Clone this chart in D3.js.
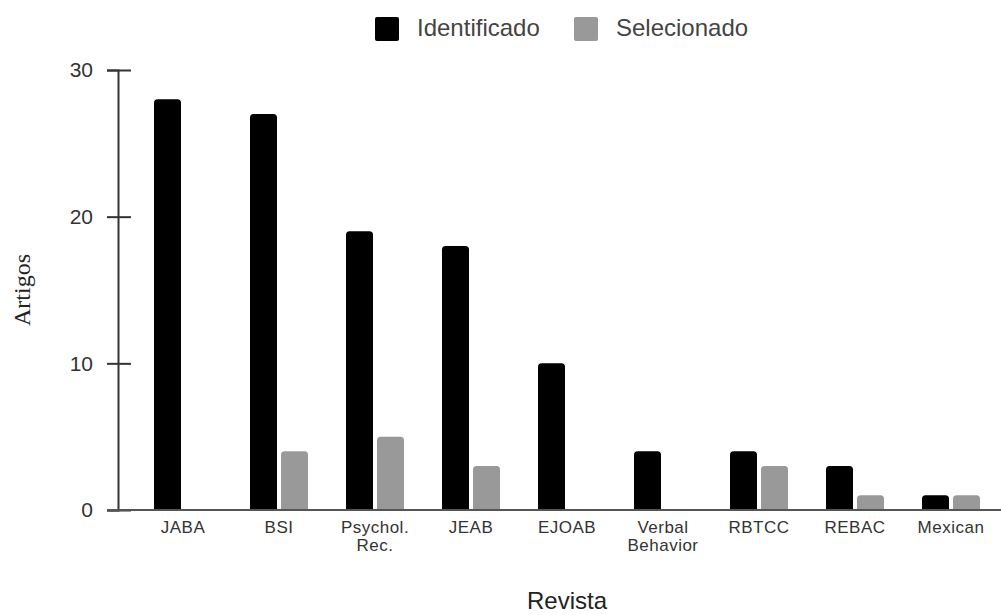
<html>
<head>
	<title>Artigos por revista</title>
	<script src="https://d3js.org/d3.v7.min.js"></script>
	<style type="text/css">
		body { margin: 0; padding: 0; background: #fff; }
		text { font-family: "Liberation Sans", Arial, sans-serif; }
	</style>
</head>
<body>
<div id="chart"></div>
<script>

var revistas = [["JABA"], ["BSI"], ["Psychol.", "Rec."], ["JEAB"], ["EJOAB"], ["Verbal", "Behavior"], ["RBTCC"], ["REBAC"], ["Mexican"]];
var series = ["Identificado", "Selecionado"];
var identificado = [28, 27, 19, 18, 10, 4, 4, 3, 1];
var selecionado = [0, 4, 5, 3, 0, 0, 3, 1, 1];
var yTicks = [0, 10, 20, 30];
var colors = ["#000000", "#999999"];

var w = 1001, h = 615;

var svg = d3.select("#chart").append("svg")
	.attr("width", w)
	.attr("height", h);

var names = revistas.map(function(d) { return d.join(" "); });

var x = d3.scaleBand()
	.domain(names)
	.range([135, 999]);

var x1 = d3.scaleBand()
	.domain(series)
	.range([x.bandwidth()/2 - 29, x.bandwidth()/2 + 29])
	.paddingInner(0.13);

var y = d3.scaleLinear()
	.domain([0, 30])
	.range([510, 70]);

var color = d3.scaleOrdinal().domain(series).range(colors);

// y axis
var yAxis = svg.append("g")
	.attr("transform", "translate(118,0)")
	.call(d3.axisLeft(y).tickValues(yTicks).tickSize(11).tickPadding(14));
yAxis.select(".domain").attr("stroke", "#333").attr("stroke-width", 2);
yAxis.selectAll(".tick line").attr("x2", 13).attr("x1", -11).attr("stroke", "#333").attr("stroke-width", 2);
yAxis.selectAll(".tick text")
	.attr("font-size", 21)
	.attr("font-family", "Liberation Sans, Arial, sans-serif")
	.attr("fill", "#333");

// bars
var data = names.map(function(n, i) {
	return { name: n, values: [identificado[i], selecionado[i]] };
});

var groups = svg.append("g").selectAll("g")
	.data(data)
	.join("g")
	.attr("transform", function(d) { return "translate(" + x(d.name) + ",0)"; });

groups.selectAll("path")
	.data(function(d) { return d.values.map(function(v, j) { return { s: series[j], v: v }; }); })
	.join("path")
	.filter(function(d) { return d.v > 0; })
	.attr("fill", function(d) { return color(d.s); })
	.attr("d", function(d) {
		var x0 = x1(d.s), bw = x1.bandwidth(), y0 = y(d.v), yb = y(0), r = 3.5;
		return "M" + x0 + "," + yb +
			"V" + (y0 + r) +
			"Q" + x0 + "," + y0 + " " + (x0 + r) + "," + y0 +
			"H" + (x0 + bw - r) +
			"Q" + (x0 + bw) + "," + y0 + " " + (x0 + bw) + "," + (y0 + r) +
			"V" + yb + "Z";
	});

// x axis baseline
svg.append("line")
	.attr("x1", 107).attr("x2", 1001)
	.attr("y1", y(0)).attr("y2", y(0))
	.attr("stroke", "#555").attr("stroke-width", 2);

// x labels
var labels = svg.append("g").selectAll("text")
	.data(revistas)
	.join("text")
	.attr("x", function(d, i) { return x(names[i]) + x.bandwidth()/2; })
	.attr("y", 533)
	.attr("text-anchor", "middle")
	.attr("font-size", 17)
	.attr("letter-spacing", 0.5)
	.attr("fill", "#333");
labels.selectAll("tspan")
	.data(function(d) { return d; })
	.join("tspan")
	.attr("x", function() { return this.parentNode.getAttribute("x"); })
	.attr("dy", function(d, i) { return i ? 18 : 0; })
	.text(function(d) { return d; });

// axis titles
svg.append("text")
	.attr("x", (x.range()[0] + x.range()[1]) / 2)
	.attr("y", 609)
	.attr("text-anchor", "middle")
	.attr("font-size", 24)
	.attr("fill", "#222")
	.text("Revista");

svg.append("text")
	.attr("transform", "translate(30," + (y(15)) + ") rotate(-90)")
	.attr("text-anchor", "middle")
	.attr("font-size", 24)
	.style("font-family", "Liberation Serif, Times New Roman, serif")
	.attr("fill", "#222")
	.text("Artigos");

// legend
var legend = svg.append("g").selectAll("g")
	.data(series)
	.join("g")
	.attr("transform", function(d, i) { return "translate(" + [375, 574][i] + ",17)"; });
legend.append("rect")
	.attr("width", 24).attr("height", 24).attr("rx", 2)
	.attr("fill", function(d) { return color(d); });
legend.append("text")
	.attr("x", 42).attr("y", 19)
	.attr("font-size", 24)
	.attr("fill", "#444")
	.text(function(d) { return d; });

</script>
</body>
</html>
